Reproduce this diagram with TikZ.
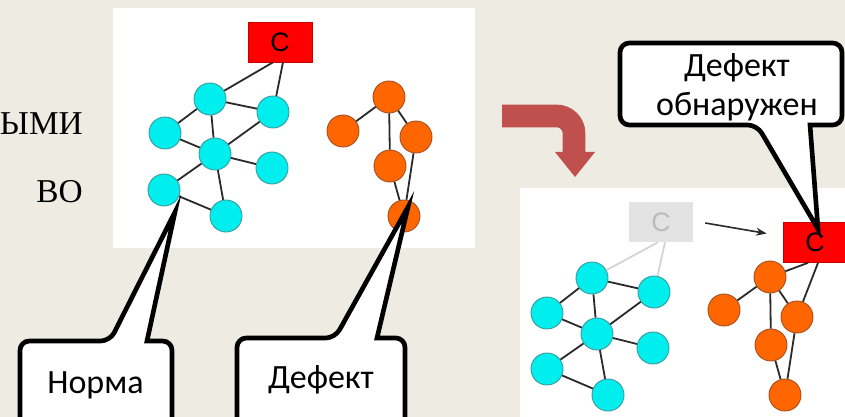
\documentclass[tikz,border=0pt]{standalone}
\usepackage{fontspec}
\setmainfont{Carlito}
\newfontfamily\serifru{Liberation Serif}
\newfontfamily\arialf{Liberation Sans}
\usetikzlibrary{arrows.meta,calc}
\definecolor{bg}{HTML}{EEECE2}
\definecolor{cyfill}{HTML}{00EEEE}
\definecolor{cystroke}{HTML}{3A9EA0}
\definecolor{orfill}{HTML}{FF6600}
\definecolor{orstroke}{HTML}{A85020}
\definecolor{boxred}{HTML}{FF0000}
\definecolor{boxredline}{HTML}{C80000}
\definecolor{grayfill}{HTML}{E3E3E3}
\definecolor{graytext}{HTML}{BBBBBB}
\definecolor{grayedge}{HTML}{D4D4D4}
\definecolor{edgecol}{HTML}{2A2A2A}
\definecolor{arrowred}{HTML}{C0504D}
\begin{document}
\begin{tikzpicture}[x=0.75pt,y=-0.75pt,
  cy/.style={circle, draw=cystroke, fill=cyfill, minimum size=24pt, inner sep=0pt, line width=0.7pt},
  orn/.style={circle, draw=orstroke, fill=orfill, minimum size=24pt, inner sep=0pt, line width=0.7pt},
  edge/.style={draw=edgecol, line width=1.35pt},
  gedge/.style={draw=grayedge, line width=1.35pt},
  cbox/.style={rectangle, fill=boxred, draw=boxredline, line width=0.5pt, minimum width=48pt, minimum height=30pt, inner sep=0pt, font=\arialf\fontsize{20}{20}\selectfont},
  gbox/.style={rectangle, fill=grayfill, minimum width=48pt, minimum height=30pt, inner sep=0pt, text=graytext, font=\arialf\fontsize{20}{20}\selectfont},
  callout/.style={draw=black, fill=white, line width=3.5pt, line join=miter},
  ctext/.style={inner sep=0pt, anchor=base, font=\fontsize{25.5}{29}\selectfont},
  stext/.style={inner sep=0pt, anchor=base east, font=\serifru\fontsize{25}{25}\selectfont},
  panel/.style={fill=white, draw=none}
]
\useasboundingbox (0,0) rectangle (845,417);
\clip (0,0) rectangle (845,417);
\fill[bg] (0,0) rectangle (845,417);

% panels
\path[panel] (113,8) rectangle (475,248);
\path[panel] (520,188) rectangle (850,420);

% left texts
\node[stext] (t1) at (83,135) {ЫМИ};
\node[stext] (t2) at (83,202) {ВО};

% red curved arrow
\draw[arrowred, line width=17pt, rounded corners=13pt] (502,116) -- (574,116) -- (574,153);
\fill[arrowred] (555,152) -- (595,152) -- (575,177) -- cycle;

% left graph
\node[cbox] (C1) at (280,42) {C};
\node[cy] (n1) at (210,99) {};
\node[cy] (n2) at (273,112) {};
\node[cy] (n3) at (165,133) {};
\node[cy] (n4) at (215,154) {};
\node[cy] (n5) at (272,168) {};
\node[cy] (n6) at (164,190) {};
\node[cy] (n7) at (226,216) {};
\draw[edge] ([xshift=-5.25pt]C1.south) -- (n1);
\draw[edge] ([xshift=2.25pt]C1.south) -- (n2);
\draw[edge] (n1) -- (n2);
\draw[edge] (n1) -- (n3);
\draw[edge] (n1) -- (n4);
\draw[edge] (n3) -- (n4);
\draw[edge] (n4) -- (n2);
\draw[edge] (n4) -- (n5);
\draw[edge] (n4) -- (n6);
\draw[edge] (n4) -- (n7);
\draw[edge] (n6) -- (n7);

\node[orn] (o1) at (389,97) {};
\node[orn] (o2) at (343,131) {};
\node[orn] (o3) at (416,137) {};
\node[orn] (o4) at (390,166) {};
\node[orn] (o5) at (404,216) {};
\draw[edge] (o1) -- (o2);
\draw[edge] (o1) -- (o3);
\draw[edge] (o1) -- (o4);
\draw[edge] (o4) -- (o5);
\draw[edge] (o3) -- (o5);

% right graph
\node[gbox] (gC) at (661,222) {C};
\node[cbox] (rC) at (815,242.5) {C};
\draw[edgecol, line width=1.2pt, -{Stealth[length=8pt,width=6pt]}] ($(gC.east)+(12,1)$) -- ($(rC.west)+(-16,-9)$);

\node[cy] (m1) at (592,278) {};
\node[cy] (m2) at (654,292) {};
\node[cy] (m3) at (547,313) {};
\node[cy] (m4) at (597,334) {};
\node[cy] (m5) at (653,348) {};
\node[cy] (m6) at (547,369) {};
\node[cy] (m7) at (608,395) {};
\draw[gedge] ([xshift=-2.25pt]gC.south) -- (m1);
\draw[gedge] ([xshift=3pt]gC.south) -- (m2);
\draw[edge] (m1) -- (m2);
\draw[edge] (m1) -- (m3);
\draw[edge] (m1) -- (m4);
\draw[edge] (m3) -- (m4);
\draw[edge] (m4) -- (m2);
\draw[edge] (m4) -- (m5);
\draw[edge] (m4) -- (m6);
\draw[edge] (m4) -- (m7);
\draw[edge] (m6) -- (m7);

\node[orn] (p1) at (770,277) {};
\node[orn] (p2) at (724,310) {};
\node[orn] (p3) at (797,317) {};
\node[orn] (p4) at (771,345) {};
\node[orn] (p5) at (785,395) {};
\draw[edge] ([xshift=-5.25pt]rC.south) -- (p1);
\draw[edge] ([xshift=2.25pt]rC.south) -- (p3);
\draw[edge] (p1) -- (p2);
\draw[edge] (p1) -- (p3);
\draw[edge] (p1) -- (p4);
\draw[edge] (p4) -- (p5);
\draw[edge] (p3) -- (p5);

% callouts
\coordinate (tipN) at (175,212);
\coordinate (tipD) at (408,207);
\coordinate (tipR) at (818,229);
\draw[callout] (tipN) -- (147,341) [rounded corners=7pt] -- (172,341) -- (172,440) -- (20,440) -- (20,341) -- (110,341) [sharp corners] -- cycle;
\node[ctext] (norma) at (95.5,393) {Норма};

\draw[callout] (tipD) -- (377,338) [rounded corners=7pt] -- (405,338) -- (405,440) -- (237,440) -- (237,338) -- (335,338) [sharp corners] -- cycle;
\node[ctext] (defekt) at (321,388) {Дефект};

\draw[callout] (tipR) -- (810,125) [rounded corners=7pt] -- (842,125) -- (842,43) -- (620,43) -- (620,125) -- (757,125) [sharp corners] -- cycle;
\node[ctext] (d1) at (737,77) {Дефект};
\node[ctext] (d2) at (737,116) {обнаружен};
\end{tikzpicture}
\end{document}
